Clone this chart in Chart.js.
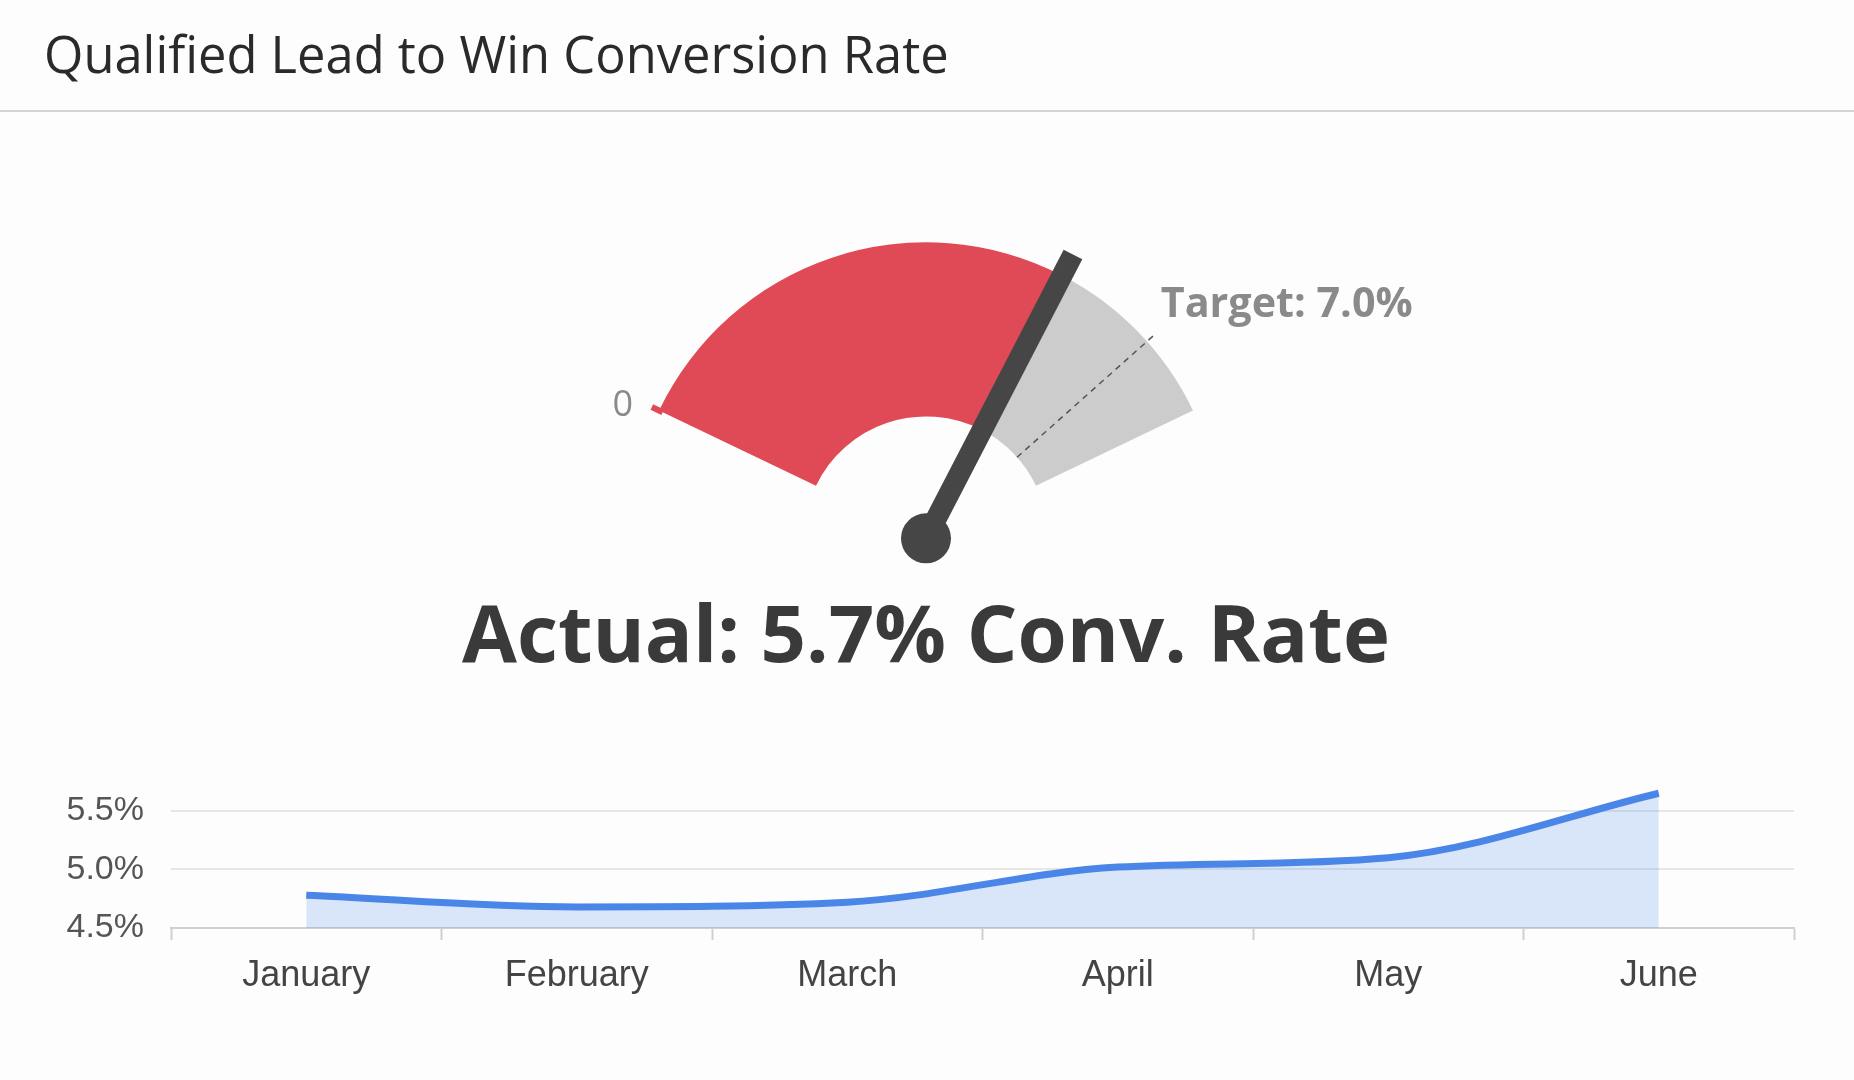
<!DOCTYPE html>
<html>
<head>
<meta charset="utf-8">
<title>Qualified Lead to Win Conversion Rate</title>
<script src="https://cdn.jsdelivr.net/npm/chart.js@4.4.0/dist/chart.umd.min.js"></script>
<style>
  html, body { margin: 0; padding: 0; background: #fdfdfd; }
  body { width: 1854px; height: 1080px; position: relative; overflow: hidden; }
  .rule { position: absolute; left: 0; top: 110px; width: 1854px; height: 2px; background: #d4d4d4; }
  #gauge { position: absolute; left: 0; top: 0; }
  #trend { position: absolute; left: 0; top: 740px; }
</style>
</head>
<body>
<div class="rule"></div>
<canvas id="gauge" width="1854" height="1080"></canvas>
<canvas id="trend" width="1854" height="340"></canvas>
<script>
// --- data ---
const titleText = "Qualified Lead to Win Conversion Rate";
const gaugeMax = 8;
const actual = 5.7;
const target = 7.0;
const months = ["January", "February", "March", "April", "May", "June"];
const rates = [4.78, 4.68, 4.72, 5.02, 5.10, 5.65];
const rateTicks = [4.5, 5.0, 5.5];

const gaugeSweep = 128.8; // degrees
const RED = "#df4a56";
const GREY = "#cccccc";

// scale a font so the text takes a given width
function fitFont(ctx, text, weight, family, width) {
  ctx.font = weight + " 100px " + family;
  const size = 100 * width / ctx.measureText(text).width;
  ctx.font = weight + " " + size + "px " + family;
}

const gaugeDecor = {
  id: "gaugeDecor",
  afterDatasetsDraw(chart) {
    const ctx = chart.ctx;
    const arc = chart.getDatasetMeta(0).data[0];
    const { x, y, innerRadius, outerRadius, startAngle, endAngle } = arc;
    const sweep = gaugeSweep * Math.PI / 180;
    const tAng = startAngle + sweep * target / gaugeMax;
    const pt = (a, r) => [x + Math.cos(a) * r, y + Math.sin(a) * r];

    ctx.save();
    // target marker
    ctx.setLineDash([6, 5]);
    ctx.strokeStyle = "#555";
    ctx.lineWidth = 1.5;
    ctx.beginPath();
    ctx.moveTo(...pt(tAng, innerRadius));
    const tEnd = pt(tAng, outerRadius + 9);
    ctx.lineTo(...tEnd);
    ctx.stroke();
    ctx.setLineDash([]);

    const tLabel = "Target: " + target.toFixed(1) + "%";
    ctx.fillStyle = "#8a8a8a";
    fitFont(ctx, tLabel, 700, "'Open Sans'", 252);
    ctx.textAlign = "left";
    ctx.textBaseline = "middle";
    ctx.fillText(tLabel, tEnd[0] + 7, tEnd[1] - 30);

    // zero label and start nub
    const s0 = pt(startAngle, outerRadius);
    ctx.strokeStyle = RED;
    ctx.lineWidth = 6;
    ctx.beginPath();
    ctx.moveTo(...pt(startAngle, outerRadius - 4));
    ctx.lineTo(...pt(startAngle, outerRadius + 8));
    ctx.stroke();
    ctx.font = "400 36px 'Open Sans'";
    ctx.textAlign = "right";
    ctx.fillText("0", s0[0] - 26, s0[1] - 5);

    // needle
    ctx.strokeStyle = "#464646";
    ctx.fillStyle = "#464646";
    ctx.lineWidth = 21;
    ctx.beginPath();
    ctx.moveTo(x, y);
    ctx.lineTo(...pt(endAngle, outerRadius * 1.08));
    ctx.stroke();
    ctx.beginPath();
    ctx.arc(x, y, 25, 0, Math.PI * 2);
    ctx.fill();

    // title and headline
    ctx.fillStyle = "#2a2a2a";
    ctx.textAlign = "left";
    ctx.textBaseline = "alphabetic";
    fitFont(ctx, titleText, 400, "'Open Sans'", 905);
    ctx.fillText(titleText, 44, 73);

    const headline = "Actual: " + actual.toFixed(1) + "% Conv. Rate";
    ctx.fillStyle = "#3a3a3a";
    ctx.textAlign = "center";
    fitFont(ctx, headline, 700, "'Open Sans'", 928);
    ctx.fillText(headline, x, 662);
    ctx.restore();
  }
};

new Chart(document.getElementById("gauge"), {
  type: "doughnut",
  data: {
    labels: ["Actual", "Remaining"],
    datasets: [{
      data: [actual, gaugeMax - actual],
      backgroundColor: [RED, GREY],
      borderWidth: 0,
      radius: 296,
      cutout: "41.2%"
    }]
  },
  options: {
    responsive: false,
    animation: false,
    events: [],
    rotation: -gaugeSweep / 2,
    circumference: gaugeSweep,
    layout: { padding: { left: 0, right: 2, top: 0, bottom: 352 } },
    plugins: { legend: { display: false }, tooltip: { enabled: false } }
  },
  plugins: [gaugeDecor]
});

Chart.defaults.font.family = "'Liberation Sans', Arial, sans-serif";

new Chart(document.getElementById("trend"), {
  type: "line",
  data: {
    labels: months,
    datasets: [{
      data: rates,
      borderColor: "#4a86e8",
      borderWidth: 7,
      backgroundColor: "rgba(74,134,232,0.2)",
      fill: "start",
      pointRadius: 0,
      cubicInterpolationMode: "monotone"
    }]
  },
  options: {
    responsive: false,
    animation: false,
    events: [],
    layout: { padding: { left: 0, right: 60, top: 42, bottom: 40 } },
    plugins: { legend: { display: false }, tooltip: { enabled: false } },
    scales: {
      x: {
        offset: true,
        grid: { offset: true, drawOnChartArea: false, tickLength: 12, tickColor: "#d0d0d0", tickWidth: 2 },
        border: { color: "#d0d0d0", width: 2 },
        ticks: { color: "#444", font: { size: 36 }, padding: 14, maxRotation: 0 },
        afterFit(s) { s.height = 112; }
      },
      y: {
        min: 4.5,
        max: 5.7,
        afterBuildTicks(s) { s.ticks = rateTicks.map(v => ({ value: v })); },
        grid: { color: "#e6e6e6", lineWidth: 2, drawTicks: false },
        border: { display: false },
        ticks: { color: "#555", font: { size: 34 }, padding: 27, callback: v => v.toFixed(1) + "%" },
        afterFit(s) { s.width = 171; }
      }
    }
  }
});
</script>
</body>
</html>
